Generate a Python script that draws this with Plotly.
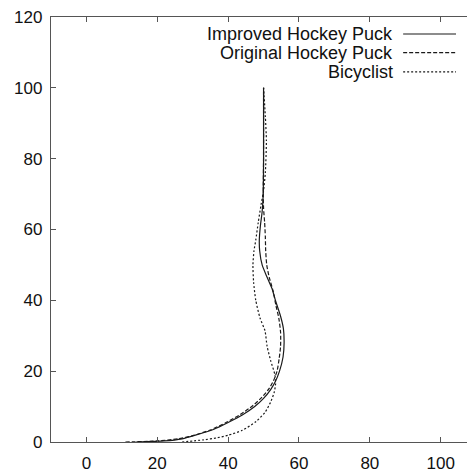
import plotly.graph_objects as go

# Improved Hockey Puck (solid)
improved_x = [14, 22, 27, 31, 36, 40, 44, 47.5, 50, 52, 53.3, 54.5, 55.5, 55.8, 55.6, 54.8, 53.4, 52.5, 51, 49.6, 48.9, 48.8, 49.1, 49.6, 49.9, 50, 50]
improved_y = [0, 0.3, 0.9, 2, 3.6, 5.5, 7.6, 10, 12.3, 14.8, 17, 20, 24, 28, 32, 35.5, 39.8, 43, 46.5, 50, 54, 57, 61, 65, 70, 80, 100]

# Original Hockey Puck (dashed)
original_x = [11, 20, 26, 30, 35, 39.4, 43.5, 47, 49.5, 51.5, 52.8, 53.8, 54.4, 54.8, 54.8, 54.3, 53.5, 52.7, 51.6, 50.9, 50.6, 50.5, 50.3, 50, 49.9, 50, 50]
original_y = [0, 0.3, 0.9, 1.8, 3.4, 5.5, 7.8, 10.3, 12.6, 15, 17.3, 20, 23.5, 27, 31, 35, 38.5, 42.6, 46.5, 50, 54, 58, 62, 66, 70, 80, 100]

# Bicyclist (dotted)
bicyclist_x = [27, 33, 37, 40, 44, 47.9, 50.5, 52, 53, 53.4, 53.2, 52, 51, 50.4, 49, 47.8, 47.2, 47, 47.3, 47.8, 48.5, 49.3, 50, 50.5, 50.8, 50.5, 50]
bicyclist_y = [0, 0.6, 1.2, 1.9, 3.3, 5.8, 8.5, 11.3, 14, 16.5, 19, 23, 27, 31.4, 35, 40, 45, 50, 54, 57, 62, 67, 71, 76, 85, 92, 100]

series_names = ["Improved Hockey Puck", "Original Hockey Puck", "Bicyclist"]
x_ticks = [0, 20, 40, 60, 80, 100]
y_ticks = [0, 20, 40, 60, 80, 100, 120]

dashes = ["solid", "4px,2px", "2px,2px"]
data = [(improved_x, improved_y), (original_x, original_y), (bicyclist_x, bicyclist_y)]

FONT = "Liberation Sans, Arial, sans-serif"
LINE_COLOR = "#1a1a1a"

fig = go.Figure()
for (xs, ys), name, dash in zip(data, series_names, dashes):
    fig.add_trace(go.Scatter(x=xs, y=ys, mode="lines", name=name,
                             line=dict(color=LINE_COLOR, width=1.2, dash=dash, shape="spline", smoothing=0.6),
                             showlegend=False))

# gnuplot-style key on the right: text then line sample
row_y = [0.960, 0.916, 0.871]
for name, dash, yy in zip(series_names, dashes, row_y):
    fig.add_annotation(x=0.814, y=yy, xref="paper", yref="paper", text=name,
                       showarrow=False, xanchor="right", yanchor="middle",
                       font=dict(family=FONT, size=18, color="#111"))
    fig.add_shape(type="line", xref="paper", yref="paper", x0=0.8325, x1=0.9575, y0=yy, y1=yy,
                  line=dict(color=LINE_COLOR, width=1.2, dash=dash))

axis_common = dict(showgrid=False, zeroline=False, showline=True, linecolor="#555", linewidth=1.3,
                   mirror="ticks", ticks="inside", ticklen=5, tickcolor="#555", tickwidth=1.2,
                   ticklabeloverflow="allow",
                   tickfont=dict(family=FONT, size=17, color="#111"))

fig.update_xaxes(range=[-10, 109.4], tickvals=x_ticks, ticktext=[str(v) for v in x_ticks],
                 ticklabelstandoff=5, **axis_common)
fig.update_yaxes(range=[0, 120], tickvals=y_ticks, ticktext=[str(v) for v in y_ticks],
                 ticklabelstandoff=4, **axis_common)

fig.update_layout(width=467, height=465, margin=dict(l=43, r=0, t=6, b=31),
                  paper_bgcolor="white", plot_bgcolor="white", showlegend=False)

fig.write_html("out.html")
